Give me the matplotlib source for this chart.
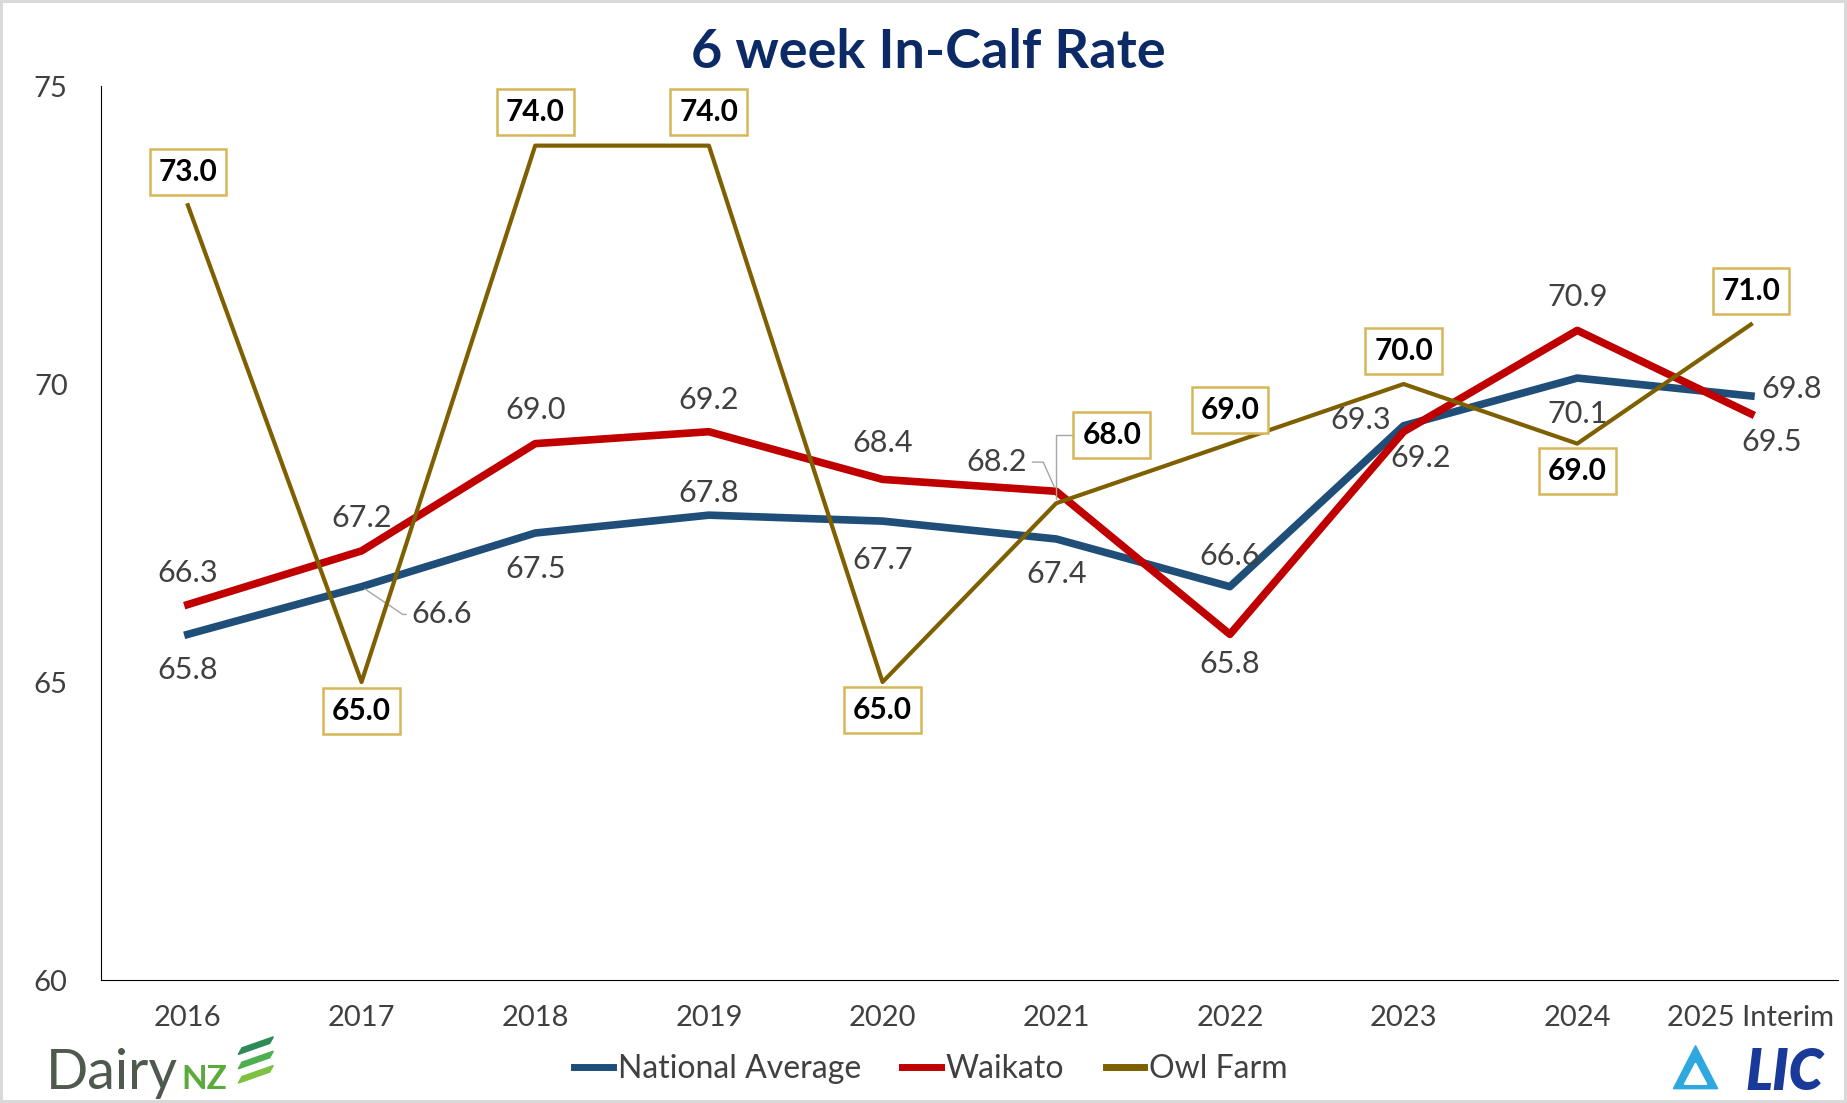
import matplotlib.pyplot as plt
from matplotlib.patches import Polygon

years = ['2016', '2017', '2018', '2019', '2020', '2021', '2022', '2023', '2024', '2025 Interim']
national = [65.8, 66.6, 67.5, 67.8, 67.7, 67.4, 66.6, 69.3, 70.1, 69.8]
waikato = [66.3, 67.2, 69.0, 69.2, 68.4, 68.2, 65.8, 69.2, 70.9, 69.5]
owl = [73.0, 65.0, 74.0, 74.0, 65.0, 68.0, 69.0, 70.0, 69.0, 71.0]

# label offsets in points (dx, dy)
nat_off = [(0, -26), (58, -20), (0, -26), (0, 16), (0, -28), (0, -25), (0, 22), (-31, 4), (0, -26), (29, 5)]
wai_off = [(0, 23), (0, 24), (0, 24), (0, 23), (0, 26), (-43, 21), (0, -21), (12, -19), (0, 24), (15, -20)]
owl_off = [(0, 24), (0, -21), (0, 24), (0, 24), (0, -20), (40, 49), (0, 24), (0, 24), (0, -20), (0, 24)]

c_nat = '#1f4e79'
c_wai = '#c00000'
c_owl = '#7f6000'
c_box = '#d6b656'

plt.rcParams['font.family'] = ['Lato', 'DejaVu Sans']

fig = plt.figure(figsize=(18.47, 11.03), dpi=100)
fig.patch.set_edgecolor('#d9d9d9')
fig.patch.set_linewidth(4)
ax = fig.add_axes([0.0547, 0.1115, 0.9403, 0.8105])

x = list(range(len(years)))
ax.plot(x, national, color=c_nat, lw=5.5, label='National Average', solid_joinstyle='round', zorder=3)
ax.plot(x, waikato, color=c_wai, lw=5.5, label='Waikato', solid_joinstyle='round', zorder=3)
ax.plot(x, owl, color=c_owl, lw=3, label='Owl Farm', zorder=4)

lead = dict(arrowstyle='-', color='#a6a6a6', lw=1, shrinkA=2, shrinkB=3)
lbl = dict(textcoords='offset points', ha='center', va='center', fontsize=22, color='#404040')
for i in x:
    dx, dy = nat_off[i]
    ap = None
    if i == 1:
        ap = dict(lead, connectionstyle='angle,angleA=0,angleB=-34,rad=0')
    ax.annotate(f'{national[i]:.1f}', (i, national[i]), xytext=(dx, dy), arrowprops=ap, **lbl)
    dx, dy = wai_off[i]
    ap = None
    if i == 5:
        ap = dict(lead, connectionstyle='angle,angleA=0,angleB=-66,rad=0')
    ax.annotate(f'{waikato[i]:.1f}', (i, waikato[i]), xytext=(dx, dy), arrowprops=ap, **lbl)
    dx, dy = owl_off[i]
    ap = None
    if i == 5:
        ap = dict(lead, shrinkA=0, connectionstyle='angle,angleA=0,angleB=90,rad=0')
    ax.annotate(f'{owl[i]:.1f}', (i, owl[i]), xytext=(dx, dy), textcoords='offset points',
                ha='center', va='center', fontsize=21.5, fontweight='bold', color='black',
                bbox=dict(boxstyle='square,pad=0.3', fc='white', ec=c_box, lw=1.8),
                arrowprops=ap, zorder=6)

ax.set_xlim(-0.5, 9.5)
ax.set_ylim(60, 75)
ax.set_yticks([60, 65, 70, 75])
ax.set_xticks(x)
ax.set_xticklabels(years)
ax.tick_params(axis='both', length=0, labelsize=21, colors='#404040')
ax.tick_params(axis='y', pad=24)
ax.tick_params(axis='x', pad=18)
for s in ['top', 'right']:
    ax.spines[s].set_visible(False)
ax.spines['left'].set_color('black')
ax.spines['bottom'].set_color('black')

fig.text(0.5025, 0.952, '6 week In-Calf Rate', ha='center', va='center', fontsize=39,
         fontweight='bold', color='#0c2a66')

leg = fig.legend(loc='center', bbox_to_anchor=(0.504, 0.031), ncol=3, frameon=False,
                 fontsize=23, handlelength=1.2, handletextpad=0.15, columnspacing=1.3)
for t in leg.get_texts():
    t.set_color('#404040')
for h in leg.get_lines():
    h.set_linewidth(5)

# logos drawn as text and shapes
fig.text(0.025, 0.013, 'Dairy', fontsize=40, color='#4d5a4d', ha='left', va='baseline')
fig.text(0.098, 0.013, 'NZ', fontsize=24, color='#5aaa3c', fontweight='bold', ha='left', va='baseline')
for k, col in enumerate(['#2e8b57', '#4caf50', '#7dc242']):
    y0 = 0.052 - k * 0.013
    fig.patches.append(Polygon([[0.129, y0 - 0.008], [0.146, y0 + 0.002], [0.148, y0 + 0.008], [0.131, y0 - 0.002]],
                               closed=True, color=col, transform=fig.transFigure))
fig.text(0.966, 0.012, 'LIC', fontsize=40, color='#1a3a9a', fontweight='heavy', style='italic',
         ha='center', va='baseline')
fig.patches.append(Polygon([[0.906, 0.013], [0.918, 0.052], [0.930, 0.013]], closed=True,
                           color='#2fa8e0', transform=fig.transFigure))
fig.patches.append(Polygon([[0.912, 0.017], [0.918, 0.036], [0.924, 0.017]], closed=True,
                           color='white', transform=fig.transFigure))

fig.savefig('out.png', dpi=100)
